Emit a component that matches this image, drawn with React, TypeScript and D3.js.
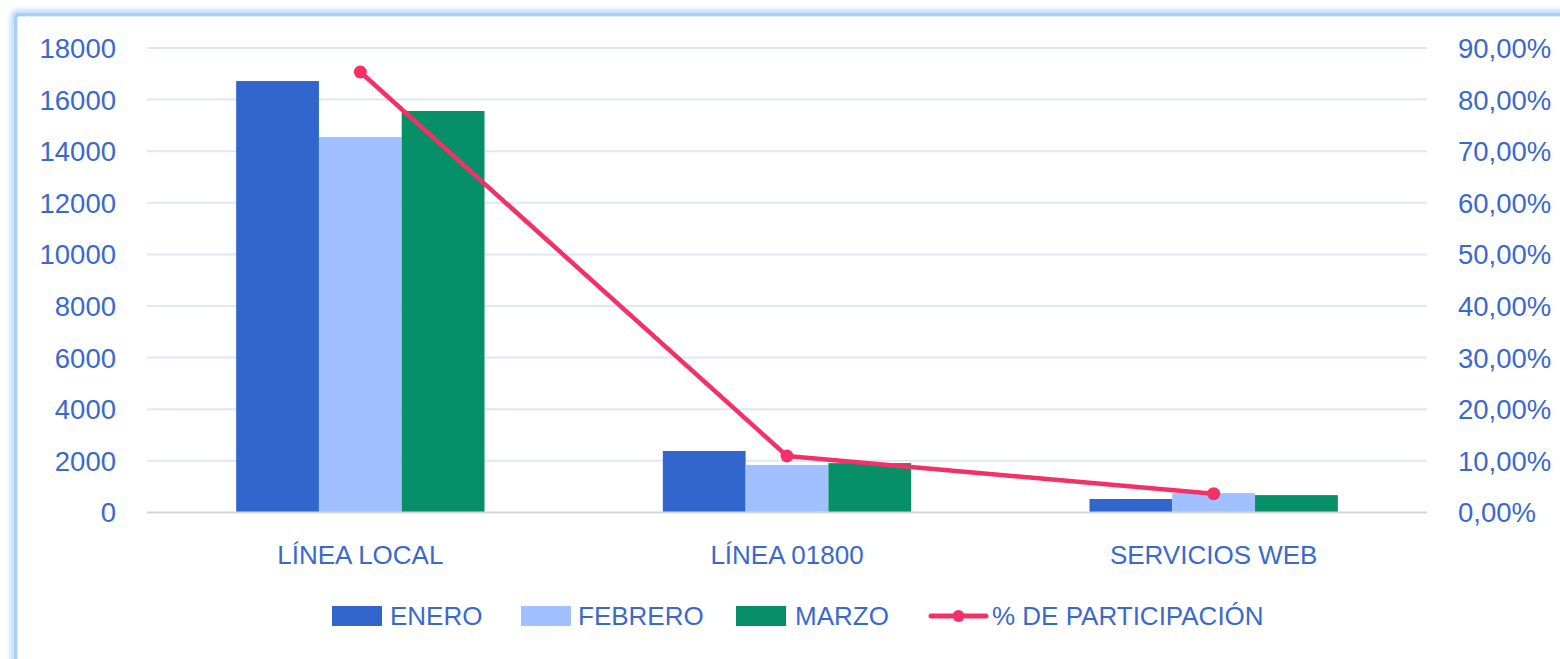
import React from "react";
import * as d3 from "d3";

const categories = ["LÍNEA LOCAL", "LÍNEA 01800", "SERVICIOS WEB"];
const seriesNames = ["ENERO", "FEBRERO", "MARZO"];
const enero = [16720, 2380, 520];
const febrero = [14550, 1840, 750];
const marzo = [15560, 1910, 670];
const participacion = [0.8535, 0.1093, 0.0362];
const leftTicks = [0, 2000, 4000, 6000, 8000, 10000, 12000, 14000, 16000, 18000];
const rightTicks = [0, 0.1, 0.2, 0.3, 0.4, 0.5, 0.6, 0.7, 0.8, 0.9];
const lineName = "% DE PARTICIPACIÓN";

const W = 1560;
const H = 659;
const colors = ["#3366CC", "#A0C0FF", "#078F67"];
const lineColor = "#F33166";
const textColor = "#3A69CE";
const font = "'Liberation Sans', Arial, sans-serif";

export default function App() {
  const plotL = 147;
  const plotR = 1427;
  const plotT = 48;
  const plotB = 512.4;

  const x = d3.scaleBand<string>().domain(categories).range([plotL, plotR]).paddingInner(0).paddingOuter(0);
  const yL = d3.scaleLinear().domain([0, 18000]).range([plotB, plotT]);
  const yR = d3.scaleLinear().domain([0, 0.9]).range([plotB, plotT]);
  const groupW = x.bandwidth() * 0.582;
  const inner = d3.scaleBand<string>().domain(seriesNames).range([0, groupW]).padding(0);
  const seriesData = [enero, febrero, marzo];

  const pts: [number, number][] = categories.map((c, i) => [x(c)! + x.bandwidth() / 2, yR(participacion[i])]);
  const line = d3.line()(pts) || "";

  const fmtPct = (v: number) => (v * 100).toFixed(2).replace(".", ",") + "%";

  const legendItems = [
    { label: "ENERO", color: colors[0], rx: 332, tx: 390 },
    { label: "FEBRERO", color: colors[1], rx: 521, tx: 578 },
    { label: "MARZO", color: colors[2], rx: 736, tx: 795 },
  ];
  const ly = 616;

  return (
    <svg width={W} height={H} style={{ position: "absolute", left: 0, top: 0, background: "#fff" }} fontFamily={font}>
      <defs>
        <filter id="glow" x="-5%" y="-5%" width="110%" height="110%">
          <feGaussianBlur stdDeviation="2.5" />
        </filter>
      </defs>
      <rect x={0} y={0} width={W} height={H} fill="#fff" />
      <rect x={14} y={13} width={1640} height={760} rx={4} fill="none" stroke="#BFDCF7" strokeWidth={7} filter="url(#glow)" />
      <rect x={15.5} y={14.5} width={1640} height={760} rx={3} fill="none" stroke="#A9CFF3" strokeWidth={3} />
      <rect x={18} y={17} width={1640} height={760} fill="#fff" />

      {leftTicks.slice(1).map((t) => (
        <line key={t} x1={plotL} x2={plotR} y1={yL(t)} y2={yL(t)} stroke="#DDE7F8" strokeWidth={2} />
      ))}

      {categories.map((c, ci) => (
        <g key={c}>
          {seriesNames.map((s, si) => {
            const bx = x(c)! + (x.bandwidth() - groupW) / 2 + inner(s)!;
            const v = seriesData[si][ci];
            return (
              <rect key={s} x={bx} y={yL(v)} width={inner.bandwidth()} height={plotB - yL(v)} fill={colors[si]} />
            );
          })}
        </g>
      ))}

      <line x1={plotL} x2={plotR} y1={plotB} y2={plotB} stroke="#D4D4D4" strokeWidth={2} />

      <path d={line} fill="none" stroke={lineColor} strokeWidth={4.5} strokeLinejoin="round" />
      {pts.map((p, i) => (
        <circle key={i} cx={p[0]} cy={p[1]} r={6.5} fill={lineColor} />
      ))}

      {leftTicks.map((t) => (
        <text key={t} x={116} y={yL(t)} dy="0.36em" textAnchor="end" fontSize={27.5} fill={textColor}>
          {t}
        </text>
      ))}
      {rightTicks.map((t) => (
        <text key={t} x={1458} y={yR(t)} dy="0.36em" textAnchor="start" fontSize={27.5} fill={textColor}>
          {fmtPct(t)}
        </text>
      ))}

      {categories.map((c) => (
        <text key={c} x={x(c)! + x.bandwidth() / 2} y={564} textAnchor="middle" fontSize={26} fill={textColor}>
          {c}
        </text>
      ))}

      {legendItems.map((it) => (
        <g key={it.label}>
          <rect x={it.rx} y={ly - 10} width={50} height={20} fill={it.color} />
          <text x={it.tx} y={ly} dy="0.36em" fontSize={26} fill={textColor}>
            {it.label}
          </text>
        </g>
      ))}
      <line x1={931} x2={986} y1={ly} y2={ly} stroke={lineColor} strokeWidth={5} strokeLinecap="round" />
      <circle cx={958.5} cy={ly} r={6} fill={lineColor} />
      <text x={992} y={ly} dy="0.36em" fontSize={26} fill={textColor}>
        {lineName}
      </text>
    </svg>
  );
}
